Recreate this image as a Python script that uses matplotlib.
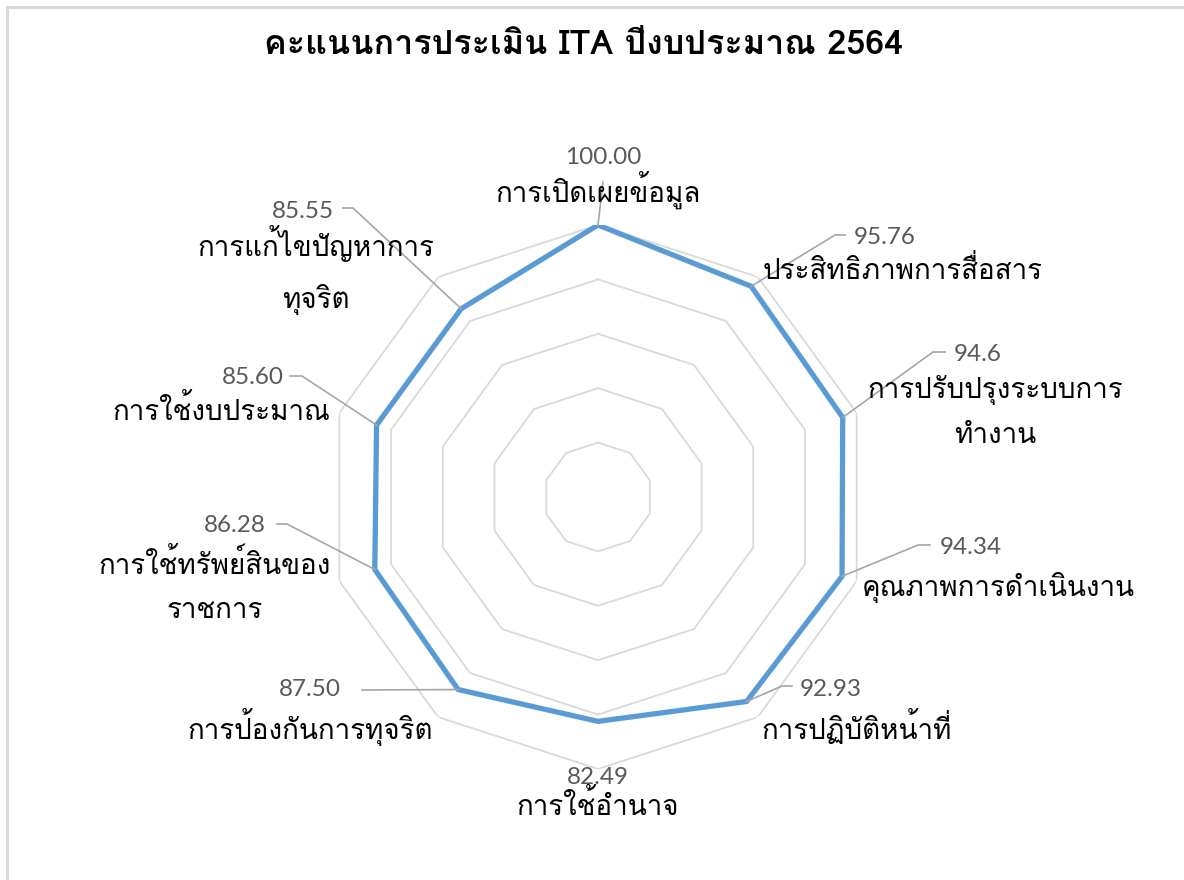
import numpy as np
import matplotlib
matplotlib.use("Agg")
import matplotlib.pyplot as plt
from matplotlib import font_manager
from matplotlib.patches import Rectangle
from matplotlib.lines import Line2D

title = "คะแนนการประเมิน ITA ปีงบประมาณ 2564"
categories = [
    "การเปิดเผยข้อมูล",
    "ประสิทธิภาพการสื่อสาร",
    "การปรับปรุงระบบการ\nทำงาน",
    "คุณภาพการดำเนินงาน",
    "การปฏิบัติหน้าที่",
    "การใช้อำนาจ",
    "การป้องกันการทุจริต",
    "การใช้ทรัพย์สินของ\nราชการ",
    "การใช้งบประมาณ",
    "การแก้ไขปัญหาการ\nทุจริต",
]
scores = [100.00, 95.76, 94.6, 94.34, 92.93, 82.49, 87.50, 86.28, 85.60, 85.55]
score_labels = ["100.00", "95.76", "94.6", "94.34", "92.93",
                "82.49", "87.50", "86.28", "85.60", "85.55"]
grid_levels = [20, 40, 60, 80, 100]


def thai_fonts():
    # installed fonts that really carry Thai glyphs
    found = []
    try:
        from fontTools.ttLib import TTFont
    except ImportError:
        return found
    for f in font_manager.fontManager.ttflist:
        try:
            tt = TTFont(f.fname, fontNumber=0, lazy=True)
            cmap = tt.getBestCmap()
            if cmap and 0x0E01 in cmap and 0x0E34 in cmap and f.name not in found:
                found.append(f.name)
        except Exception:
            pass
    return found


names = thai_fonts()
thai = "Loma" if "Loma" in names else (names[0] if names else "DejaVu Sans")
plt.rcParams["font.family"] = [thai, "DejaVu Sans"]

W, H = 1184, 880
fig = plt.figure(figsize=(W / 100, H / 100), dpi=100)

# chart area border
fig.patches.append(Rectangle((7 / W, -0.05), 1.1, 1 - 7 / H + 0.05, transform=fig.transFigure,
                             fill=False, edgecolor="#d9d9d9", linewidth=2.2))

cx, cy, R = 598, 497, 272
ax = fig.add_axes([(cx - R) / W, (H - cy - R) / H, 2 * R / W, 2 * R / H], projection="polar")
ax.set_theta_zero_location("N")
ax.set_theta_direction(-1)
ax.set_ylim(0, 100)
ax.axis("off")

n = len(categories)
theta = np.linspace(0, 2 * np.pi, n, endpoint=False)
tclosed = np.append(theta, theta[0])

for lv in grid_levels:
    ax.plot(tclosed, [lv] * (n + 1), color="#d9d9d9", lw=1.3, zorder=1)

vals = np.append(scores, scores[0])
ax.plot(tclosed, vals, color="#5b9bd5", lw=3.8, zorder=3, solid_joinstyle="miter")

fig.text(583 / W, 1 - 45 / H, title, ha="center", va="center", fontsize=24.5,
         fontweight="bold", color="black")

# label layout in image pixels
cat_pos = [(598, 190), (903, 270), (995, 412), (998, 587), (857, 727),
           (598, 805), (310, 727), (215, 587), (221, 410), (316, 270)]
val_pos = [(603, 157), (885, 237), (978, 354), (971, 548), (831, 689),
           (598, 778), (310, 690), (235, 525), (253, 377), (303, 211)]
knees = [(603, 182), (835, 235), (933, 352), (918, 545), (782, 686),
         None, (362, 690), (287, 524), (302, 376), (353, 208)]
ends = [None, (845, 235), (945, 352), (930, 545), (792, 686),
        None, None, (277, 524), (290, 376), (343, 208)]

for i in range(n):
    x, y = cat_pos[i]
    fig.text(x / W, 1 - y / H, categories[i], ha="center", va="center", fontsize=20,
             color="black", linespacing=1.9, zorder=5)
    vx, vy = val_pos[i]
    fig.text(vx / W, 1 - vy / H, score_labels[i], ha="center", va="center",
             fontsize=17.5, color="#595959", family=["Lato", "DejaVu Sans"], zorder=5)
    if knees[i] is not None:
        px, py = ax.transData.transform((theta[i], scores[i]))
        xs, ys = [px, knees[i][0]], [py, H - knees[i][1]]
        if ends[i] is not None:
            xs.append(ends[i][0])
            ys.append(H - ends[i][1])
        fig.lines.append(Line2D(xs, ys, color="#a6a6a6", lw=1.2, transform=None, zorder=2))

fig.savefig("out.png", dpi=100)
